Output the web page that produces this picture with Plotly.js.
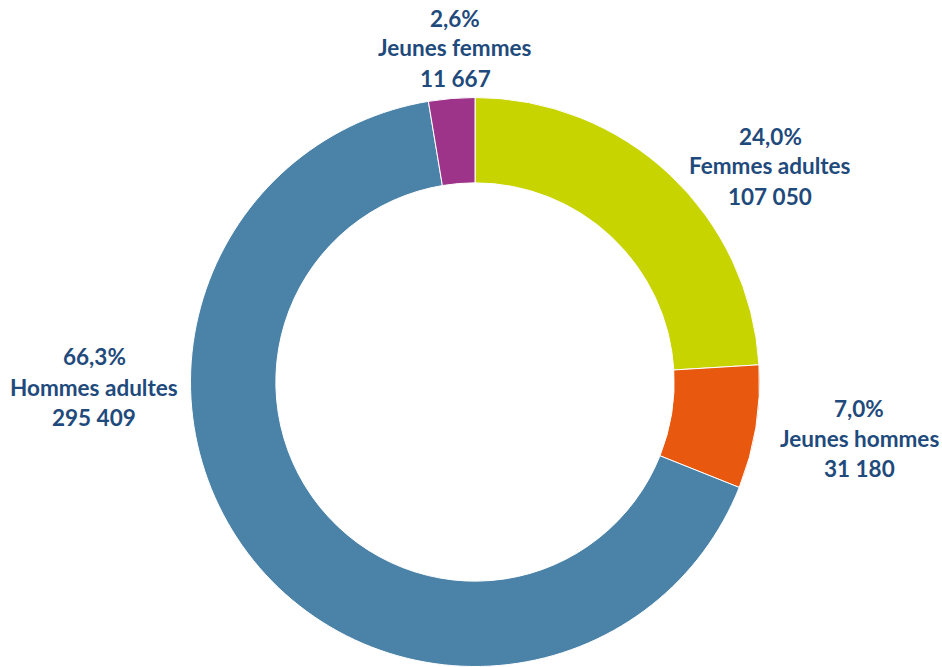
<!DOCTYPE html>
<html><head><meta charset="utf-8">
<script src="https://cdn.plot.ly/plotly-3.0.1.min.js"></script>
<style>body{margin:0;background:#fff}#chart{width:942px;height:667px}</style>
</head><body><div id="chart"></div>
<script>
const categories = ["Femmes adultes", "Jeunes hommes", "Hommes adultes", "Jeunes femmes"];
const values = [107050, 31180, 295409, 11667];
const percentLabels = ["24,0%", "7,0%", "66,3%", "2,6%"];
const valueLabels = ["107 050", "31 180", "295 409", "11 667"];
const colors = ["#C8D400", "#E8580E", "#4A82A8", "#9D3489"];
// label anchor positions (pixels, centre of middle line)
const labelX = [770, 859, 94, 455];
const labelY = [166, 438, 387, 48];

const W = 942, H = 667, cx = 475, cy = 382, R = 284.5;
const textColor = "#1F4A7C";
const annotations = [];
categories.forEach((c, i) => {
  const lines = [percentLabels[i], c, valueLabels[i]];
  lines.forEach((t, k) => {
    annotations.push({
      text: "<b>" + t + "</b>",
      x: labelX[i] / W, y: 1 - (labelY[i] + (k - 1) * 30) / H,
      xref: "paper", yref: "paper", showarrow: false,
      xanchor: "center", yanchor: "middle",
      font: {family: "Lato, 'Open Sans', sans-serif", size: 22.5, color: textColor}
    });
  });
});

Plotly.newPlot("chart", [{
  type: "pie",
  labels: categories,
  values: values,
  hole: 0.70,
  sort: false,
  direction: "clockwise",
  rotation: 0,
  textinfo: "none",
  hoverinfo: "label+value+percent",
  marker: {colors: colors, line: {color: "#ffffff", width: 1}},
  domain: {x: [(cx - R) / W, (cx + R) / W], y: [(H - cy - R) / H, (H - cy + R) / H]},
  showlegend: false
}], {
  width: W, height: H,
  margin: {l: 0, r: 0, t: 0, b: 0},
  paper_bgcolor: "#ffffff",
  annotations: annotations
}, {displayModeBar: false, staticPlot: true});
</script></body></html>
